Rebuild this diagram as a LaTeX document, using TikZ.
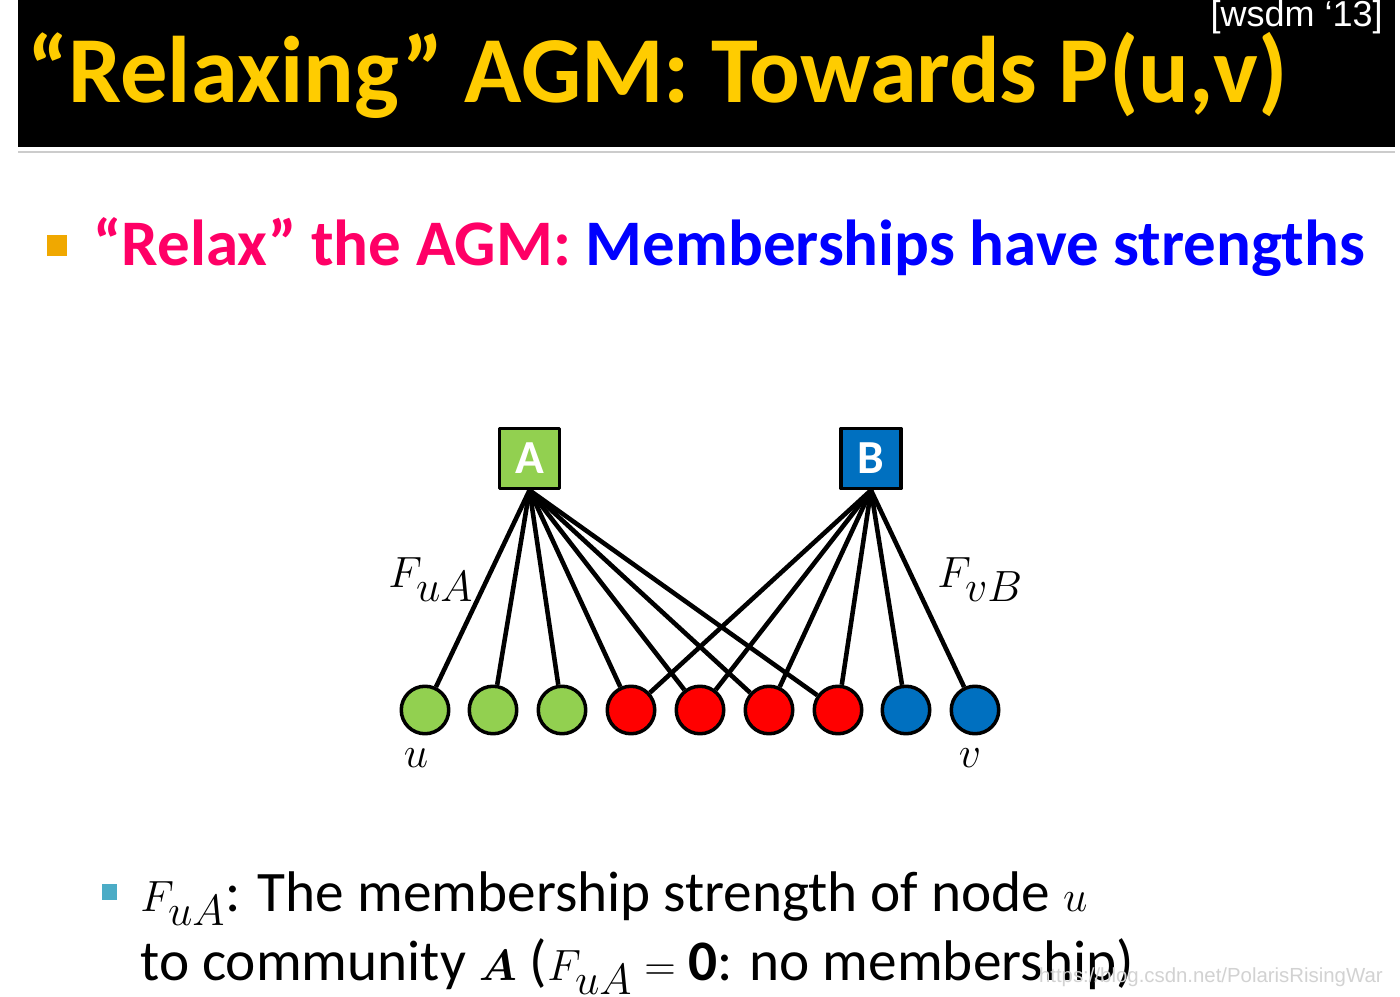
\documentclass[tikz,border=0pt]{standalone}
\usepackage{amsmath,amssymb}
\usepackage{fontspec}
\setmainfont{Carlito}
\newfontfamily\arialfont{Liberation Sans}
\usepackage{xcolor}
\usepackage{tikz}
\usetikzlibrary{calc}

\definecolor{titleyellow}{RGB}{255,204,0}
\definecolor{relaxpink}{RGB}{255,0,102}
\definecolor{strongblue}{RGB}{0,0,255}
\definecolor{bulletorange}{RGB}{240,168,0}
\definecolor{bulletcyan}{RGB}{75,172,198}
\definecolor{commgreen}{RGB}{146,208,80}
\definecolor{commblue}{RGB}{0,112,192}
\definecolor{commred}{RGB}{255,0,0}

\begin{document}
\begin{tikzpicture}[x=0.02cm,y=-0.02cm,line join=round,
  comm/.style={draw=black,line width=2pt,minimum size=1.2cm,inner sep=0pt,
    font=\fontsize{27}{30}\selectfont\bfseries,text=white},
  member/.style={circle,draw=black,line width=2pt,minimum size=0.95cm,inner sep=0pt},
  link/.style={line width=2.6pt},
  mlabel/.style={inner sep=0pt,font=\fontsize{34}{38}\selectfont}]
  \useasboundingbox[fill=white] (0,0) rectangle (1400,997);
  % title bar
  \fill[black] (18,0) rectangle (1395,147);
  \draw[gray!40,line width=1.7pt] (18,152) -- (1395,152);
  \node[anchor=base west,inner sep=0pt,text=titleyellow,font=\fontsize{53.8}{60}\selectfont\bfseries]
    (title) at (27,103) {“Relaxing” AGM: Towards P(u,v)};
  \node[anchor=base east,inner sep=0pt,text=white,font=\arialfont\fontsize{20.5}{24}\selectfont]
    (venue) at (1383,27) {[wsdm ‘13]};
  % main point
  \fill[bulletorange] (47,235) rectangle (67,256);
  \node[anchor=base west,inner sep=0pt,font=\fontsize{37}{44}\selectfont\bfseries]
    (point) at (93,265) {\textcolor{relaxpink}{“Relax” the AGM:} \textcolor{strongblue}{Memberships have strengths}};
  % communities and members
  \node[comm,fill=commgreen] (A) at (529.5,458.5) {A};
  \node[comm,fill=commblue] (B) at (871,458.5) {B};
  \foreach \i/\x/\c in {1/425/commgreen,2/493/commgreen,3/562/commgreen,
      4/631/commred,5/700/commred,6/769/commred,7/838/commred,
      8/906/commblue,9/975/commblue}
    \node[member,fill=\c] (c\i) at (\x,710) {};
  \foreach \i in {1,...,7}
    \draw[link] (A.south) -- (c\i);
  \foreach \i in {4,...,9}
    \draw[link] (B.south) -- (c\i);
  \node[mlabel,anchor=base west] (FuA) at (388,587) {$F_{uA}$};
  \node[mlabel,anchor=base west] (FvB) at (937,587) {$F_{vB}$};
  \node[mlabel,anchor=base] (u) at (416,767) {$u$};
  \node[mlabel,anchor=base] (v) at (970,767) {$v$};
  % detail
  \fill[bulletcyan] (102,884) rectangle (117,900);
  \node[anchor=base west,inner sep=0pt,font=\fontsize{32.6}{36}\selectfont]
    (detail1) at (140,911) {$F_{uA}$: The membership strength of node $u$};
  \node[anchor=base west,inner sep=0pt,font=\fontsize{32.6}{36}\selectfont]
    (detail2) at (140,980) {to community $\boldsymbol{A}$ ($F_{uA}=\mathbf{0}$: no membership)};
  \node[anchor=base east,inner sep=0pt,text=gray!35,font=\arialfont\fontsize{11.6}{14}\selectfont]
    (mark) at (1383,982) {https://blog.csdn.net/PolarisRisingWar};
\end{tikzpicture}
\end{document}
